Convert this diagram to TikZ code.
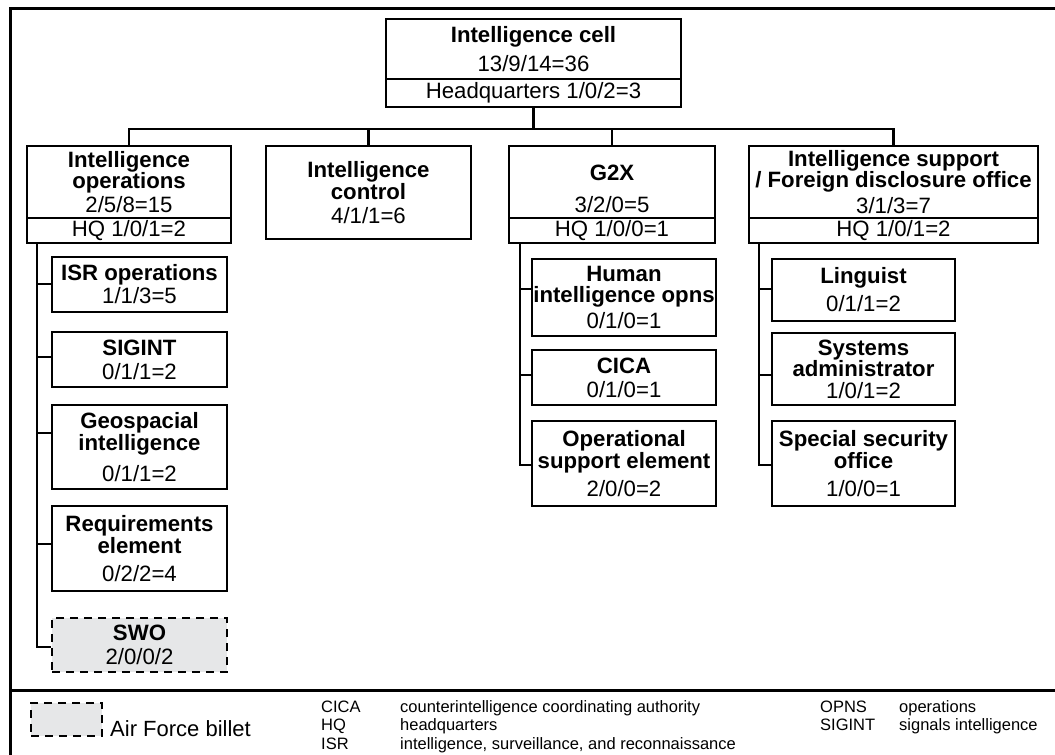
\documentclass[tikz,border=0pt]{standalone}
\usepackage{fontspec}
\setmainfont{Liberation Sans}
\definecolor{billet}{RGB}{230,231,232}
\tikzset{
  unit/.style={draw, line width=2.2pt, inner sep=0pt, align=center,
    font=\fontsize{22.2}{21.5}\selectfont},
  billetbox/.style={unit, dash pattern=on 8pt off 6pt, fill=billet},
  link/.style={line width=2.2pt},
  frame/.style={line width=3pt},
  abbr/.style={anchor=base west, inner sep=0pt, font=\fontsize{16.5}{16.5}\selectfont},
}
\begin{document}
\begin{tikzpicture}[x=1pt,y=-1pt]
\useasboundingbox (0,0) rectangle (1055,755);
\clip (0,0) rectangle (1055,755);

% outer frame and legend separator
\draw[frame] (1065,8) -- (10,8) -- (10,765);
\draw[frame] (10,690) -- (1065,690);

% top cell
\node[unit, minimum width=295pt, minimum height=60pt] (cell) at (533.5,49)
  {\textbf{Intelligence cell}\\[7pt]13/9/14=36};
\node[unit, minimum width=295pt, minimum height=28pt] (cellhq) at (533.5,93)
  {Headquarters 1/0/2=3};

% second level
\node[unit, minimum width=204pt, minimum height=72pt] (intops) at (129,182)
  {\textbf{Intelligence}\\\textbf{operations}\\[2pt]2/5/8=15};
\node[unit, minimum width=204pt, minimum height=25pt] (intopshq) at (129,230.5)
  {HQ 1/0/1=2};
\node[unit, minimum width=205pt, minimum height=93pt] (intctl) at (368.5,192.5)
  {\textbf{Intelligence}\\\textbf{control}\\[2.5pt]4/1/1=6};
\node[unit, minimum width=206pt, minimum height=72pt] (gtwox) at (612,182)
  {\rule{0pt}{30pt}\textbf{G2X}\\[10.5pt]3/2/0=5};
\node[unit, minimum width=206pt, minimum height=25pt] (gtwoxhq) at (612,230.5)
  {HQ 1/0/0=1};
\node[unit, minimum width=289pt, minimum height=72pt] (isfdo) at (893.5,182)
  {\textbf{Intelligence support}\\\textbf{/ Foreign disclosure office}\\[4pt]3/1/3=7};
\node[unit, minimum width=289pt, minimum height=25pt] (isfdohq) at (893.5,230.5)
  {HQ 1/0/1=2};

% intelligence operations elements
\node[unit, minimum width=175pt, minimum height=55pt] (isr) at (139.5,284.5)
  {\textbf{ISR operations}\\[1.5pt]1/1/3=5};
\node[unit, minimum width=175pt, minimum height=55pt] (sigint) at (139.5,359.5)
  {\textbf{SIGINT}\\[2.5pt]0/1/1=2};
\node[unit, minimum width=175pt, minimum height=84pt] (geo) at (139.5,447)
  {\textbf{Geospacial}\\\textbf{intelligence}\\[9.5pt]0/1/1=2};
\node[unit, minimum width=175pt, minimum height=85pt] (req) at (139.5,548.5)
  {\textbf{Requirements}\\\textbf{element}\\[6.5pt]0/2/2=4};
\node[billetbox, minimum width=175pt, minimum height=54pt] (swo) at (139.5,645)
  {\textbf{SWO}\\[2.5pt]2/0/0/2};

% G2X elements
\node[unit, minimum width=184pt, minimum height=77pt] (humint) at (624,297.5)
  {\textbf{Human}\\\textbf{intelligence opns}\\[4.5pt]0/1/0=1};
\node[unit, minimum width=184pt, minimum height=55pt] (cica) at (624,377.5)
  {\textbf{CICA}\\[2.5pt]0/1/0=1};
\node[unit, minimum width=184pt, minimum height=85pt] (opsup) at (624,463.5)
  {\textbf{Operational}\\\textbf{support element}\\[6.5pt]2/0/0=2};

% intelligence support elements
\node[unit, minimum width=183pt, minimum height=62pt] (ling) at (863.5,290)
  {\textbf{Linguist}\\[6.5pt]0/1/1=2};
\node[unit, minimum width=183pt, minimum height=72pt] (sysadm) at (863.5,369)
  {\textbf{Systems}\\\textbf{administrator}\\1/0/1=2};
\node[unit, minimum width=183pt, minimum height=85pt] (ssec) at (863.5,463.5)
  {\textbf{Special security}\\\textbf{office}\\[6.5pt]1/0/0=1};

% bus between the cell and its sections
\coordinate (bus) at (0,129);
\draw[link] (cellhq.south) -- (cellhq.south |- bus);
\draw[link] (intops.north) -- (intops.north |- bus) -| (isfdo.north);
\draw[link] (intctl.north) -- (intctl.north |- bus);
\draw[link] (gtwox.north) -- (gtwox.north |- bus);

% trunks down to the elements
\coordinate (opstrunk) at ([xshift=11pt]intopshq.south west);
\draw[link] (opstrunk) |- ([yshift=0.5pt]isr.west);
\draw[link] (opstrunk) |- ([yshift=2.5pt]sigint.west);
\draw[link] (opstrunk) |- ([yshift=14pt]geo.west);
\draw[link] (opstrunk) |- ([yshift=4.5pt]req.west);
\draw[link] (opstrunk) |- ([yshift=-2pt]swo.west);

\coordinate (gtrunk) at ([xshift=12pt]gtwoxhq.south west);
\draw[link] (gtrunk) |- ([yshift=8.5pt]humint.west);
\draw[link] (gtrunk) |- ([yshift=2.5pt]cica.west);
\draw[link] (gtrunk) |- ([yshift=-1.5pt]opsup.west);

\coordinate (strunk) at ([xshift=11pt]isfdohq.south west);
\draw[link] (strunk) |- ([yshift=1pt]ling.west);
\draw[link] (strunk) |- ([yshift=-6pt]sysadm.west);
\draw[link] (strunk) |- ([yshift=-1.5pt]ssec.west);

% legend
\node[billetbox, minimum width=71pt, minimum height=33pt] (legbox) at (66.5,719.5) {};
\node[anchor=base west, inner sep=0pt, font=\fontsize{22}{22}\selectfont] (legtext) at (110,736) {Air Force billet};

\node[abbr] (abcica) at (321,712) {CICA};
\node[abbr] (decica) at (400,712) {counterintelligence coordinating authority};
\node[abbr] (abhq) at (321,730) {HQ};
\node[abbr] (dehq) at (400,730) {headquarters};
\node[abbr] (abisr) at (321,749) {ISR};
\node[abbr] (deisr) at (400,749) {intelligence, surveillance, and reconnaissance};
\node[abbr] (abopns) at (820,712) {OPNS};
\node[abbr] (deopns) at (899,712) {operations};
\node[abbr] (absig) at (820,730) {SIGINT};
\node[abbr] (desig) at (899,730) {signals intelligence};
\end{tikzpicture}
\end{document}
